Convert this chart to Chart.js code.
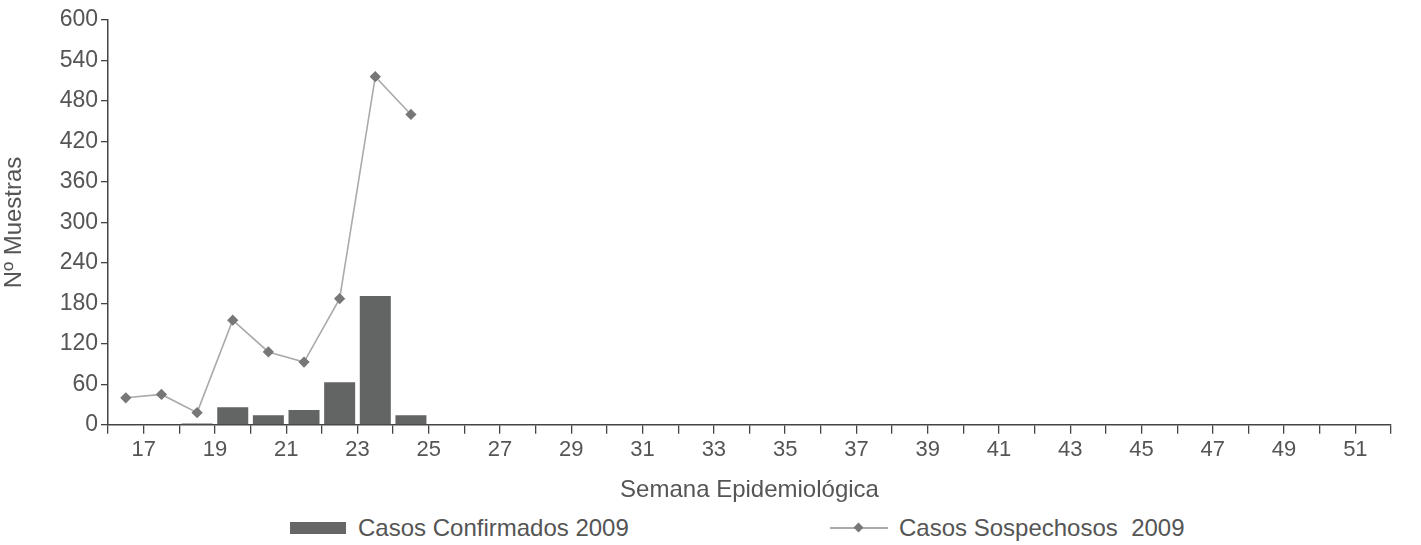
<!DOCTYPE html>
<html lang="es">
<head>
  <meta charset="UTF-8">
  <title>Casos por semana epidemiológica</title>
  <script src="https://cdn.jsdelivr.net/npm/chart.js"></script>
  <style>
    body {
      margin: 0;
      background: #fff;
      font-family: "Liberation Sans", Arial, sans-serif;
      color: #555;
    }
    #wrap {
      position: relative;
      width: 1421px;
      height: 545px;
    }
    #chartBox {
      position: absolute;
      left: 0;
      top: 0;
      width: 1421px;
      height: 505px;
    }
    .legend-item {
      position: absolute;
      top: 514px;
      font-size: 24px;
      line-height: 28px;
      display: flex;
      align-items: center;
      white-space: pre;
    }
    .swatch-bar {
      width: 56px;
      height: 12px;
      background: #666;
      margin-right: 12px;
    }
    .swatch-line {
      position: relative;
      width: 58px;
      height: 2px;
      background: #aaa;
      margin-right: 11px;
    }
    .swatch-line::after {
      content: "";
      position: absolute;
      left: 25px;
      top: -3px;
      width: 7px;
      height: 7px;
      background: #777;
      transform: rotate(45deg);
    }
  </style>
</head>
<body>
  <div id="wrap">
    <div id="chartBox"><canvas id="casosChart"></canvas></div>
    <div class="legend-item" style="left:290px"><span class="swatch-bar"></span><span id="lg0"></span></div>
    <div class="legend-item" style="left:830px"><span class="swatch-line"></span><span id="lg1"></span></div>
  </div>

  <script>
    // semana epidemiológica (each value sits in the interval that ends at that week tick)
    const semanas = [17, 18, 19, 20, 21, 22, 23, 24, 25];
    const confirmados = [0, 0, 2, 26, 14, 22, 63, 191, 14];
    const sospechosos = [40, 45, 18, 155, 108, 93, 187, 516, 460];

    const xMin = 16, xMax = 52;
    const yMax = 600, yStep = 60;

    const labelConf = 'Casos Confirmados 2009';
    const labelSosp = 'Casos Sospechosos  2009';

    document.getElementById('lg0').textContent = labelConf;
    document.getElementById('lg1').textContent = labelSosp;

    const toPoints = vals => vals.map((v, i) => ({ x: semanas[i] - 0.5, y: v }));

    const ctx = document.getElementById('casosChart').getContext('2d');
    new Chart(ctx, {
      type: 'bar',
      data: {
        datasets: [
          {
            type: 'line',
            label: labelSosp,
            data: toPoints(sospechosos),
            borderColor: '#aaa',
            borderWidth: 1.6,
            pointStyle: 'rectRot',
            pointRadius: 4.5,
            pointBackgroundColor: '#777',
            pointBorderColor: '#777',
            tension: 0,
            order: 0
          },
          {
            label: labelConf,
            data: toPoints(confirmados),
            backgroundColor: '#626563',
            barPercentage: 0.87,
            categoryPercentage: 1,
            order: 1
          }
        ]
      },
      options: {
        responsive: true,
        maintainAspectRatio: false,
        animation: false,
        layout: { padding: { top: 20, right: 30, left: 0, bottom: 0 } },
        plugins: {
          legend: { display: false },
          tooltip: { enabled: false }
        },
        scales: {
          x: {
            type: 'linear',
            min: xMin,
            max: xMax,
            offset: false,
            border: { color: '#444', width: 1.5 },
            grid: { offset: false, drawOnChartArea: false, drawTicks: true, tickLength: 9, color: '#444', lineWidth: 1.3 },
            ticks: {
              stepSize: 1,
              autoSkip: false,
              maxRotation: 0,
              padding: 3,
              color: '#555',
              font: { family: 'Liberation Sans', size: 22 },
              callback: v => (v % 2 === 1 ? String(v) : '')
            },
            title: {
              display: true,
              text: 'Semana Epidemiológica',
              color: '#555',
              font: { family: 'Liberation Sans', size: 24 },
              padding: { top: 10, bottom: 0 }
            }
          },
          y: {
            min: 0,
            max: yMax,
            border: { color: '#444', width: 1.5 },
            grid: { drawOnChartArea: false, drawTicks: true, tickLength: 7, color: '#444', lineWidth: 1.3 },
            ticks: {
              stepSize: yStep,
              padding: 3,
              color: '#555',
              font: { family: 'Liberation Sans', size: 23 }
            },
            title: {
              display: true,
              text: 'Nº Muestras',
              color: '#555',
              font: { family: 'Liberation Sans', size: 24 },
              padding: { top: 0, bottom: 2 }
            },
            afterFit: scale => { scale.width = 108; }
          }
        }
      }
    });
  </script>
</body>
</html>
